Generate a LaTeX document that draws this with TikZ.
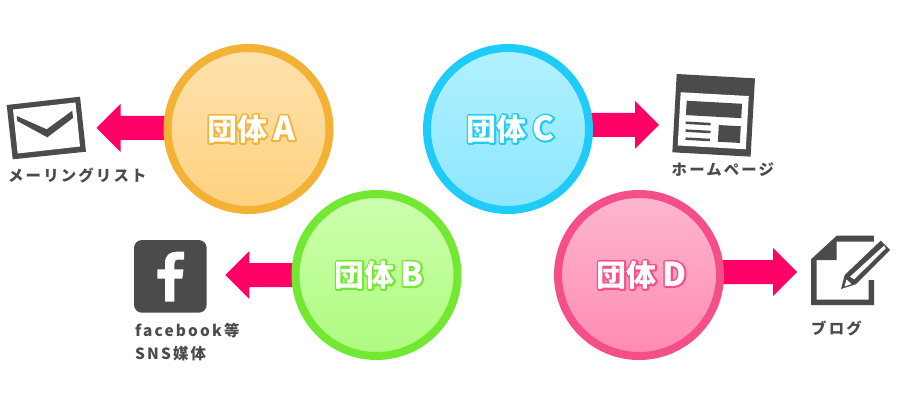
\documentclass[tikz,border=0pt]{standalone}
\usepackage{fontspec}
\usetikzlibrary{shadings}
\newfontfamily\cjkbold{Noto Sans CJK JP Black}
\newfontfamily\cjklabel[LetterSpace=14]{Noto Sans CJK JP Black}
\newcommand{\outlined}[2]{\rlap{\special{pdf:code 2 Tr 3.6 w 1 j #1 RG}#2\special{pdf:code 0 Tr 1 w}}#2}
\newcommand{\orbtext}[2]{\hspace*{5pt}\raisebox{2pt}{\outlined{#1}{団体\hspace{-1pt} {\fontsize{33}{33}\selectfont #2}}}}
\newcommand{\blockarrow}[3]{\fill[arrowpink] ([yshift=12pt]#1) -- ([xshift=#3*24pt,yshift=12pt]#2) -- ([xshift=#3*24pt,yshift=24pt]#2) -- (#2) -- ([xshift=#3*24pt,yshift=-24pt]#2) -- ([xshift=#3*24pt,yshift=-12pt]#2) -- ([yshift=-12pt]#1) -- cycle;}
\definecolor{inkdark}{HTML}{4B4B4B}
\definecolor{arrowpink}{HTML}{FF0066}
\tikzset{
  x=1pt,y=-1pt,
  orb/.style={circle,inner sep=0,minimum size=162pt,line width=8pt,text=white,font=\cjkbold\fontsize{30}{30}\selectfont},
  iconlabel/.style={anchor=north west,inner sep=0,text=inkdark,font=\cjklabel\fontsize{15.4}{23}\selectfont,align=left},
  ink/.style={fill=inkdark,draw=none},
  paper/.style={fill=white,draw=none}
}
\begin{document}
\begin{tikzpicture}
\useasboundingbox (0,0) rectangle (904,400);
\fill[white] (0,0) rectangle (904,400);
% arrows, tucked under the circles
\coordinate (startA) at (170,127.8); \coordinate (tipA) at (96.5,127.8);
\coordinate (startB) at (298,275);   \coordinate (tipB) at (225.3,275);
\coordinate (startC) at (588,124.8); \coordinate (tipC) at (659,124.8);
\coordinate (startD) at (718,272);   \coordinate (tipD) at (797,272);
\blockarrow{startA}{tipA}{1}
\blockarrow{startB}{tipB}{1}
\blockarrow{startC}{tipC}{-1}
\blockarrow{startD}{tipD}{-1}
% circles
\node[orb,draw={rgb,255:red,243;green,178;blue,54},top color={rgb,255:red,253;green,226;blue,174},bottom color={rgb,255:red,255;green,210;blue,128}] (orbA) at (248.5,129)
  {\orbtext{0.96 0.70 0.21}{A}};
\node[orb,draw={rgb,255:red,114;green,232;blue,50},top color={rgb,255:red,205;green,255;blue,175},bottom color={rgb,255:red,174;green,251;blue,126}] (orbB) at (376.5,275)
  {\orbtext{0.45 0.91 0.20}{B}};
\node[orb,draw={rgb,255:red,31;green,203;blue,248},top color={rgb,255:red,178;green,241;blue,255},bottom color={rgb,255:red,140;green,230;blue,255}] (orbC) at (508,129)
  {\orbtext{0.12 0.80 0.97}{C}};
\node[orb,draw={rgb,255:red,244;green,79;blue,136},top color={rgb,255:red,255;green,183;blue,207},bottom color={rgb,255:red,255;green,139;blue,177}] (orbD) at (639,275)
  {\orbtext{0.96 0.31 0.53}{D}};
% mail icon
\fill[ink] (6.7,105) -- (80,96.7) -- (86,151.7) -- (12.7,159.3) -- cycle;
\fill[paper] (13,109.5) -- (75.5,102.5) -- (80,146.5) -- (17.7,153.5) -- cycle;
\fill[ink] (16.7,116) -- (46.7,129.3) -- (72.3,110.7) -- (73,118) -- (47.3,137.3) -- (17.3,121) -- cycle;
% facebook icon
\fill[ink,rounded corners=8pt] (134,240) rectangle (206.7,312.7);
\fill[white] (165,301.7) -- (165,278.7) -- (157.3,278.7) -- (157.3,269.3) -- (165,269.3) -- (165,263)
  .. controls (165,255) and (170,251.7) .. (177,251.7) -- (184,251.7) -- (184,259.5) -- (179,259.5)
  .. controls (175.5,259.5) and (174.3,261) .. (174.3,264) -- (174.3,269.3) -- (183.5,269.3) -- (182.3,278.7) -- (174.3,278.7) -- (174.3,301.7) -- cycle;
% homepage icon
\begin{scope}[shift={(676.7,74)},rotate=-3.2]
\fill[ink] (0,0) rectangle (78.4,78.4);
\fill[paper] (5,18) rectangle (73.2,71.3);
\fill[ink] (11.5,26.1) rectangle (66.9,40.5);
\fill[ink] (44.9,48.6) rectangle (66.9,65.3);
\fill[ink] (11.7,46.9) rectangle (36.7,49.4);
\fill[ink] (12,54.8) rectangle (37,57.3);
\fill[ink] (12.4,62.8) rectangle (37,65.3);
\end{scope}
% blog icon
\fill[ink] (811,259.3) -- (836.7,235.7) -- (873.8,235.7) -- (873.8,241.5) -- (836.7,241.5) -- (836.7,260) -- (816.5,260) -- (816.5,299.5) -- (868.5,299.5) -- (868.5,280) -- (874,280) -- (874,305) -- (811,305) -- cycle;
\fill[paper] (838,291) -- (842,274) -- (880.7,236.5) -- (894,250) -- (857,288) -- cycle;
\fill[ink] (841,289) -- (844.7,275) -- (880.7,240.7) -- (890,250) -- (855.7,284.3) -- cycle;
\fill[paper] (850,276.7) -- (884,245.7) -- (885.7,248.3) -- (854.3,279.3) -- cycle;
\fill[paper] (846.5,279.5) -- (851.5,284) -- (844.5,286.5) -- cycle;
% labels
\node[iconlabel] (labelMail) at (8,167.5) {メーリングリスト};
\node[iconlabel] (labelHome) at (671.5,162.5) {ホームページ};
\node[iconlabel] (labelFb) at (135,323) {facebook等\\SNS媒体};
\node[iconlabel] (labelBlog) at (811,320.5) {ブログ};
\end{tikzpicture}
\end{document}
